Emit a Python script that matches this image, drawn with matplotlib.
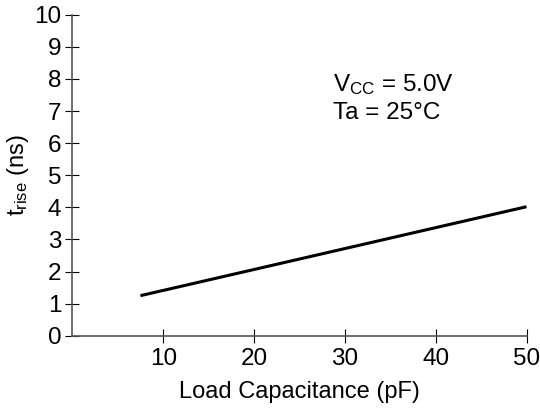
import matplotlib
matplotlib.use('Agg')
import matplotlib.pyplot as plt

plt.rcParams['font.family'] = ['Liberation Sans', 'DejaVu Sans']
plt.rcParams['mathtext.fontset'] = 'custom'
plt.rcParams['mathtext.rm'] = 'Liberation Sans'
plt.rcParams['mathtext.it'] = 'Liberation Sans'

# load capacitance (pF) vs rise time (ns)
cap = [7.5, 50]
trise = [1.25, 4.02]
xticks = [10, 20, 30, 40, 50]
yticks = list(range(0, 11))

fs = 17.5
fig = plt.figure(figsize=(5.4, 4.09), dpi=100)
ax = fig.add_axes([0.134, 0.179, 0.841, 0.785])

ax.plot(cap, trise, color='black', lw=2.2, solid_capstyle='butt')

ax.set_xlim(0, 50)
ax.set_ylim(0, 10)
ax.set_xticks(xticks)
ax.set_yticks(yticks)
ax.tick_params(direction='inout', length=10, width=0.8, labelsize=fs, colors='black')
ax.tick_params(axis='x', pad=4)
ax.tick_params(axis='y', pad=3)
for s in ['top', 'right']:
    ax.spines[s].set_visible(False)
for s in ['left', 'bottom']:
    ax.spines[s].set_color('#555555')
    ax.spines[s].set_linewidth(1.2)

ax.set_xlabel('Load Capacitance (pF)', fontsize=17, labelpad=8)
ax.set_ylabel(r'$\mathregular{t_{rise}}$ (ns)', fontsize=17, labelpad=2)

ax.text(28.7, 7.81, r'$\mathregular{V_{CC}}$ = 5.0V', fontsize=fs, va='center')
ax.text(28.7, 6.94, 'Ta = 25°C', fontsize=fs, va='center')

fig.savefig('out.png', dpi=100)
